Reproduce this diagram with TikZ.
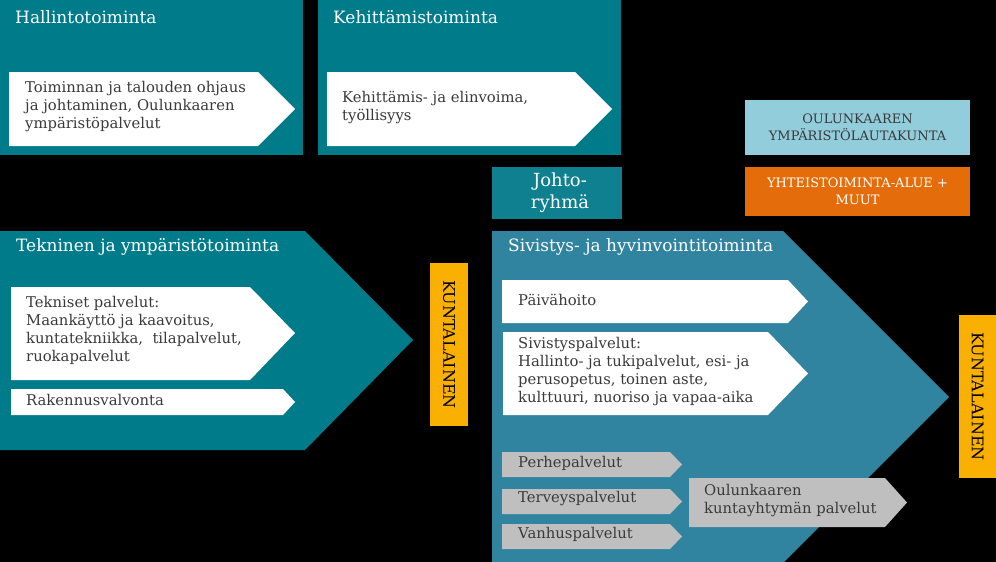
\documentclass[tikz,border=0pt]{standalone}
\usepackage{fontspec}
\setmainfont{DejaVu Serif}
\definecolor{teal1}{HTML}{007B8A}
\definecolor{teal2}{HTML}{31849F}
\definecolor{teal3}{HTML}{0E808F}
\definecolor{lblue}{HTML}{92CDDC}
\definecolor{orng}{HTML}{E46C0A}
\definecolor{yell}{HTML}{F9B000}
\definecolor{gr}{HTML}{BFBFBF}
\definecolor{txt}{HTML}{3A3A3A}
\tikzset{
  title/.style={anchor=west,text=white,font=\fontsize{17}{20}\selectfont,inner sep=0pt},
  body/.style={anchor=west,text=txt,font=\fontsize{14.8}{18}\selectfont,align=left,inner sep=0pt},
  boxtext/.style={align=center,inner sep=0pt,font=\fontsize{13}{17}\selectfont},
  kunta/.style={rotate=-90,text=black,font=\fontsize{16}{18}\selectfont,inner sep=0pt}
}
\begin{document}
\begin{tikzpicture}[x=1pt,y=-1pt]
\fill[black] (0,0) rectangle (996,562);
\useasboundingbox (0,0) rectangle (996,562);
% top boxes
\fill[teal1] (0,0) rectangle (303,155);
\fill[teal1] (318,0) rectangle (621,155);
\fill[white] (9,72) -- (258,72) -- (295,109) -- (258,146) -- (9,146) -- cycle;
\fill[white] (327,72) -- (575,72) -- (612,109) -- (575,146) -- (327,146) -- cycle;
\node[title] (hal) at (15,17) {Hallintotoiminta};
\node[title] (keh) at (333,17) {Kehittämistoiminta};
\node[body] (halb) at (25,107) {Toiminnan ja talouden ohjaus\\ja johtaminen, Oulunkaaren\\ympäristöpalvelut};
\node[body] (kehb) at (342,107) {Kehittämis- ja elinvoima,\\työllisyys};
% johto
\fill[teal3] (492,167) rectangle (622,219);
\node[boxtext,text=white,font=\fontsize{18}{22}\selectfont] (joh) at (560,193) {Johto-\\ryhmä};
% right boxes
\fill[lblue] (745,100) rectangle (970,155);
\node[boxtext,text=txt] (oyl) at (857.5,127.5) {OULUNKAAREN\\YMPÄRISTÖLAUTAKUNTA};
\fill[orng] (745,167) rectangle (970,216);
\node[boxtext,text=white] (yht) at (857.5,191) {YHTEISTOIMINTA-ALUE +\\MUUT};
% tekninen
\fill[teal1] (0,231) -- (305,231) -- (413,340) -- (305,450) -- (0,450) -- cycle;
\node[title] (tek) at (16,247) {Tekninen ja ympäristötoiminta};
\fill[white] (11,287) -- (250,287) -- (295,333) -- (250,380) -- (11,380) -- cycle;
\node[body] (tekb) at (26,330) {Tekniset palvelut:\\Maankäyttö ja kaavoitus,\\kuntatekniikka,\ \ tilapalvelut,\\ruokapalvelut};
\fill[white] (11,389) -- (283,389) -- (295,402) -- (283,415) -- (11,415) -- cycle;
\node[body] (rak) at (26,400) {Rakennusvalvonta};
\fill[yell] (430,263) rectangle (468,426);
\node[kunta] (k1) at (449,344.5) {KUNTALAINEN};
% sivistys
\fill[teal2] (492,231) -- (783,231) -- (949,397) -- (783,563) -- (492,563) -- cycle;
\node[title] (siv) at (508,247) {Sivistys- ja hyvinvointitoiminta};
\fill[white] (502,280) -- (788,280) -- (808,301.5) -- (788,323) -- (502,323) -- cycle;
\node[body] (paiv) at (518,300) {Päivähoito};
\fill[white] (503,332) -- (768,332) -- (808,373.5) -- (768,415) -- (503,415) -- cycle;
\node[body] (sivb) at (518,372) {Sivistyspalvelut:\\Hallinto- ja tukipalvelut, esi- ja\\perusopetus, toinen aste,\\kulttuuri, nuoriso ja vapaa-aika};
\fill[gr] (502,452) -- (670,452) -- (682,464.5) -- (670,477) -- (502,477) -- cycle;
\fill[gr] (502,489) -- (670,489) -- (682,501.5) -- (670,514) -- (502,514) -- cycle;
\fill[gr] (502,524) -- (670,524) -- (682,536.5) -- (670,549) -- (502,549) -- cycle;
\node[body] (per) at (518,463) {Perhepalvelut};
\node[body] (ter) at (518,499) {Terveyspalvelut};
\node[body] (van) at (518,534) {Vanhuspalvelut};
\fill[gr] (689,478) -- (885,478) -- (907,502.5) -- (885,527) -- (689,527) -- cycle;
\node[body] (oku) at (704,501) {Oulunkaaren\\kuntayhtymän palvelut};
\fill[yell] (959,315) rectangle (996,478);
\node[kunta] (k2) at (977.5,396.5) {KUNTALAINEN};
\end{tikzpicture}
\end{document}
